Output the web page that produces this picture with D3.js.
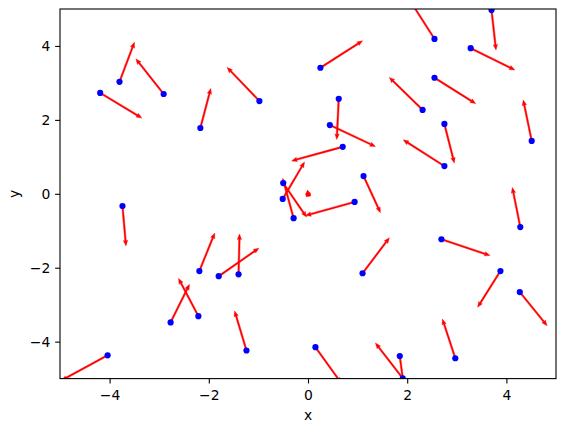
<!DOCTYPE html>
<html>
<head>
<meta charset="utf-8">
<script src="https://cdn.jsdelivr.net/npm/d3@7"></script>
<style>
  html, body { margin: 0; padding: 0; background: #fff; }
  svg { display: block; }
  text { font-family: "DejaVu Sans", sans-serif; }
</style>
</head>
<body>
<svg id="chart" width="565" height="432"></svg>
<script>
// Arrow start points (data units)
const xs = [-4.19, -3.80, -2.91, -2.17, -0.98, 0.25, 0.62, 0.44, 0.70, 2.55,
            3.70, 3.28, 2.55, 2.31, 2.75, 2.75, 4.51, -3.74, -0.50, -0.51,
            -0.29, 0.94, 1.12, 4.28, 2.69, 3.88, 4.27, -2.19, -1.80, -1.40,
            -2.77, -2.21, -4.04, -1.24, 0.15, 1.10, 1.85, 1.91, 2.97];
const ys = [2.73, 3.03, 2.70, 1.78, 2.51, 3.41, 2.57, 1.86, 1.27, 4.19,
            4.97, 3.94, 3.14, 2.27, 1.89, 0.75, 1.43, -0.33, 0.29, -0.14,
            -0.66, -0.22, 0.48, -0.90, -1.23, -2.09, -2.66, -2.09, -2.23, -2.18,
            -3.48, -3.31, -4.37, -4.24, -4.15, -2.15, -4.39, -4.99, -4.45];
// Arrow vector components (data units)
const us = [0.84, 0.30, -0.56, 0.21, -0.65, 0.85, -0.04, 0.92, -1.03, -0.48,
            0.09, 0.89, 0.83, -0.67, 0.20, -0.83, -0.17, 0.07, 0.47, 0.44,
            -0.22, -0.99, 0.34, -0.16, 0.98, -0.46, 0.55, 0.31, 0.81, 0.02,
            0.38, -0.40, -0.93, -0.24, 0.52, 0.54, 0.11, -0.55, -0.26];
const vs = [-0.68, 1.07, 0.95, 1.07, 0.91, 0.73, -1.10, -0.58, -0.38, 1.01,
            -1.08, -0.59, -0.70, 0.88, -1.06, 0.71, 1.11, -1.08, -0.92, 1.00,
            1.08, -0.37, -0.99, 1.07, -0.44, -0.98, -0.91, 1.03, 0.76, 1.09,
            1.03, 1.02, -0.68, 1.07, -0.97, 0.96, -1.09, 0.95, 1.06];
// Tiny arrow near the origin (no point drawn)
const tinyX = [0.01];
const tinyY = [-0.07];
const tinyU = [-0.02];
const tinyV = [0.17];

const xTicks = [-4, -2, 0, 2, 4];
const yTicks = [-4, -2, 0, 2, 4];
const xDomain = [-5, 5];
const yDomain = [-5, 5];

const svg = d3.select("#chart");
const L = 60, R = 556, T = 9, B = 378.6;

const x = d3.scaleLinear().domain(xDomain).range([L, R]);
const y = d3.scaleLinear().domain(yDomain).range([B, T]);

svg.append("defs").append("clipPath").attr("id", "clip")
  .append("rect").attr("x", L).attr("y", T).attr("width", R - L).attr("height", B - T);

const plot = svg.append("g").attr("clip-path", "url(#clip)");

function arrowPath(x0, y0, x1, y1) {
  const dx = x1 - x0, dy = y1 - y0;
  const len = Math.hypot(dx, dy);
  const ux = dx / len, uy = dy / len;
  const nx = -uy, ny = ux;
  let w = 0.8, hl = 5.5, hal = 5.0, hw = 2.2;
  if (len < 8) { w = 2.3; hl = len * 0.6; hal = len * 0.5; hw = 2.5; }
  const pts = [
    [x0 + nx * w, y0 + ny * w],
    [x1 - ux * hal + nx * w, y1 - uy * hal + ny * w],
    [x1 - ux * hl + nx * hw, y1 - uy * hl + ny * hw],
    [x1, y1],
    [x1 - ux * hl - nx * hw, y1 - uy * hl - ny * hw],
    [x1 - ux * hal - nx * w, y1 - uy * hal - ny * w],
    [x0 - nx * w, y0 - ny * w]
  ];
  return "M" + pts.map(p => p[0].toFixed(2) + "," + p[1].toFixed(2)).join("L") + "Z";
}

const arrows = xs.map((d, i) => ({ x: xs[i], y: ys[i], u: us[i], v: vs[i] }));
const tiny = tinyX.map((d, i) => ({ x: tinyX[i], y: tinyY[i], u: tinyU[i], v: tinyV[i] }));

plot.selectAll("path.arrow").data(arrows.concat(tiny)).join("path")
  .attr("class", "arrow")
  .attr("d", d => arrowPath(x(d.x), y(d.y), x(d.x + d.u), y(d.y + d.v)))
  .attr("fill", "#ff0000")
  .attr("stroke", "#ff0000")
  .attr("stroke-width", 0.4)
  .attr("stroke-linejoin", "round");

plot.selectAll("circle.pt").data(arrows).join("circle")
  .attr("class", "pt")
  .attr("cx", d => x(d.x))
  .attr("cy", d => y(d.y))
  .attr("r", 3.1)
  .attr("fill", "#0000ff");

// Axes
const xAxis = svg.append("g").attr("transform", `translate(0,${B})`)
  .call(d3.axisBottom(x).tickValues(xTicks).tickSize(4.86).tickPadding(4.86));
xAxis.select(".domain").remove();
xAxis.selectAll(".tick line").attr("stroke", "#000").attr("stroke-width", 1.1);
xAxis.selectAll(".tick text").attr("y", 21.9).attr("dy", 0)
  .attr("fill", "#000").style("font-size", "13.9px").style("font-family", "DejaVu Sans");

const yAxis = svg.append("g").attr("transform", `translate(${L},0)`)
  .call(d3.axisLeft(y).tickValues(yTicks).tickSize(4.86).tickPadding(4.86));
yAxis.select(".domain").remove();
yAxis.selectAll(".tick line").attr("stroke", "#000").attr("stroke-width", 1.1);
yAxis.selectAll(".tick text").attr("dy", "0.36em")
  .attr("fill", "#000").style("font-size", "13.9px").style("font-family", "DejaVu Sans");

svg.append("rect").attr("x", L).attr("y", T).attr("width", R - L).attr("height", B - T)
  .attr("fill", "none").attr("stroke", "#000").attr("stroke-width", 1.1);

svg.append("text").attr("x", (L + R) / 2).attr("y", 420)
  .attr("text-anchor", "middle").style("font-size", "13.9px").text("x");
svg.append("text").attr("transform", `translate(19.3,${(T + B) / 2}) rotate(-90)`)
  .attr("text-anchor", "middle").style("font-size", "13.9px").text("y");
</script>
</body>
</html>
